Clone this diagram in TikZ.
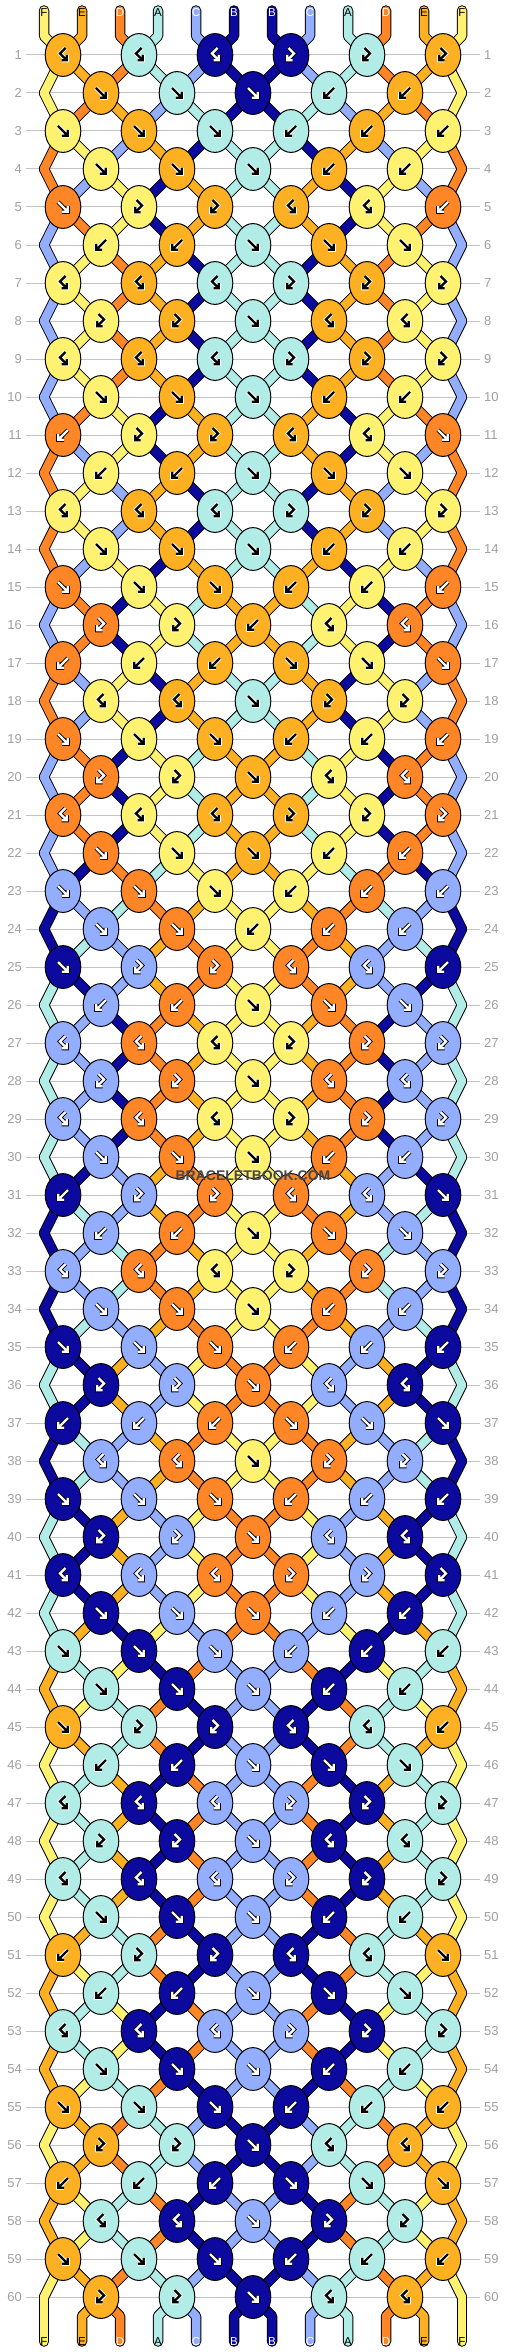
\documentclass[tikz,border=0pt]{standalone}
\usepackage{fontspec}
\setmainfont{Liberation Sans}
\usetikzlibrary{shapes.geometric}

\definecolor{cF}{HTML}{FFF270}
\definecolor{cE}{HTML}{FDB022}
\definecolor{cD}{HTML}{FF8626}
\definecolor{cA}{HTML}{B2ECE6}
\definecolor{cC}{HTML}{94AEFF}
\definecolor{cB}{HTML}{0C0A9E}
\colorlet{gF}{black}\colorlet{oF}{white}
\colorlet{gE}{black}\colorlet{oE}{white}
\colorlet{gA}{black}\colorlet{oA}{white}
\colorlet{gD}{white}\colorlet{oD}{black}
\colorlet{gC}{white}\colorlet{oC}{black}
\colorlet{gB}{white}\colorlet{oB}{black}
\definecolor{rowgray}{HTML}{A0A0A0}
\definecolor{linegray}{HTML}{C4C4C4}

\pgfdeclarelayer{grid}
\pgfdeclarelayer{tb}
\pgfdeclarelayer{tc}
\pgfsetlayers{grid,tb,tc,main}

\tikzset{
  knot/.style={ellipse, draw=black, line width=1pt, minimum width=35.6pt, minimum height=42.8pt, inner sep=0pt},
  rowlabel/.style={text=rowgray, font=\fontsize{13}{13}\selectfont, inner sep=0pt},
  endlabel/.style={font=\fontsize{11.5}{11.5}\selectfont, inner sep=0pt},
  glyph/.style={line cap=butt, line join=miter},
  gridline/.style={linegray, line width=1pt},
  tblack/.style={black, line width=10.5pt, line cap=round, line join=round},
  tcolor/.style={line width=8.5pt, line cap=round, line join=round}
}

\newcount\kj
\newcount\kp
\def\getst#1{\csname st\number\numexpr#1\relax\endcsname}
\def\posname#1#2{k#1-\ifodd#1 \csname po#2\endcsname\else\csname pe#2\endcsname\fi}

\def\glyphf#1{\draw[glyph,#1] (-5,-5) -- (4.8,4.8) (4.8,-1.2) -- (4.8,4.8) -- (-1.2,4.8);}
\def\glyphb#1{\draw[glyph,#1] (5,-5) -- (-4.8,4.8) (-4.8,-1.2) -- (-4.8,4.8) -- (1.2,4.8);}
\def\glyphr#1{\draw[glyph,#1] (2.5,-7) -- (-3,-1.5) -- (3.8,5.3) (3.8,0) -- (3.8,5.3) -- (-1.5,5.3);}
\def\glyphl#1{\draw[glyph,#1] (-2.5,-7) -- (3,-1.5) -- (-3.8,5.3) (-3.8,0) -- (-3.8,5.3) -- (1.5,5.3);}

\gdef\tbpaths{}
\gdef\tcpaths{}
\gdef\gridpaths{}
\newcommand\thread[2]{%
  \xdef\tbpaths{\unexpanded\expandafter{\tbpaths}\unexpanded{\draw[tblack] #2;}}%
  \xdef\tcpaths{\unexpanded\expandafter{\tcpaths}\unexpanded{\draw[tcolor, color=c#1] #2;}}}

\def\drawknot#1{%
  \edef\knL{\getst{\kp}}\edef\knR{\getst{\kp+1}}%
  \if#1f\edef\knC{\knL}\fi
  \if#1l\edef\knC{\knL}\fi
  \if#1b\edef\knC{\knR}\fi
  \if#1r\edef\knC{\knR}\fi
  \edef\knX{\number\numexpr\kxo+76*\kj\relax}%
  \node[knot, fill=c\knC] (k\r-\the\kj) at (\knX,\knY) {};
  \begin{scope}[shift={(\knX,\knY)}]
    \csname glyph#1\endcsname{draw=o\knC, line width=4.2pt}
    \csname glyph#1\endcsname{draw=g\knC, line width=2.2pt}
  \end{scope}
  \advance\kj by 1 \advance\kp by 2 }

\def\swapst{\expandafter\xdef\csname st\the\kp\endcsname{\knR}%
  \expandafter\xdef\csname st\number\numexpr\kp+1\relax\endcsname{\knL}}
\def\swapknot#1{%
  \edef\knL{\getst{\kp}}\edef\knR{\getst{\kp+1}}%
  \if#1f\swapst\fi
  \if#1b\swapst\fi
  \advance\kp by 2 }

\def\knotpass#1{\ifx#1\relax\let\next\relax\else\def\next{\drawknot#1\knotpass}\fi\next}
\def\swappass#1{\ifx#1\relax\let\next\relax\else\def\next{\swapknot#1\swappass}\fi\next}

\def\threadrow{\edef\rp{\number\numexpr\r-1\relax}%
  \foreach \p in {0,...,11}{%
    \edef\tmp{\noexpand\thread{\getst{\p}}{(\posname{\rp}{\p}.center) -- (\posname{\r}{\p}.center)}}\tmp}}

\begin{document}
\begin{tikzpicture}[x=1pt, y=-1pt]
  \useasboundingbox (0,0) rectangle (506,2352);

  \foreach \p/\a/\b in {0/0/L,1/0/0,2/1/0,3/1/1,4/2/1,5/2/2,6/3/2,7/3/3,8/4/3,9/4/4,10/5/4,11/5/R}
    {\expandafter\xdef\csname po\p\endcsname{\a}\expandafter\xdef\csname pe\p\endcsname{\b}}
  \foreach \p/\s in {0/F,1/E,2/D,3/A,4/C,5/B,6/B,7/C,8/A,9/D,10/E,11/F}
    {\expandafter\xdef\csname st\p\endcsname{\s}}

  \foreach \kt [count=\r] in {rrrlll,fffbb,fffbbb,fffbb,fllrrb,bbfff,rrrlll,llfrr,rrrlll,fffbb,
      bllrrf,bbfff,rrrlll,fffbb,fffbbb,llbrr,bbbfff,rrfll,fffbbb,llfrr,
      rrrlll,fffbb,fffbbb,ffbbb,fllrrb,bbfff,rrrlll,llfrr,rrrlll,fffbb,
      bllrrf,bbfff,rrrlll,fffbb,fffbbb,llfrr,bbbfff,rrfll,fffbbb,llfrr,
      rrrlll,fffbb,fffbbb,fffbb,fllrrb,bbfff,rrrlll,llfrr,rrrlll,fffbb,
      bllrrf,bbfff,rrrlll,fffbb,fffbbb,llfrr,bbbfff,rrfll,fffbbb,llfrr}{
    \edef\knY{\number\numexpr17+38*\r\relax}
    \node[rowlabel, anchor=east] (nl\r) at (22,\knY) {\r};
    \node[rowlabel, anchor=west] (nr\r) at (484,\knY) {\r};
    \xdef\gridpaths{\unexpanded\expandafter{\gridpaths}\noexpand\draw[gridline] ([xshift=4pt]nl\r.east) -- ([xshift=-4pt]nr\r.west);}
    \coordinate (k\r-L) at (44,\knY);
    \coordinate (k\r-R) at (462,\knY);
    \ifodd\r \def\kxo{63}\kp=0 \else \def\kxo{101}\kp=1 \fi
    \kj=0
    \expandafter\knotpass\kt\relax
    \ifnum\r>1 \let\next\threadrow\else\let\next\relax\fi\next
    \ifodd\r \kp=0 \else \kp=1 \fi
    \expandafter\swappass\kt\relax
  }

  \foreach \p/\s in {0/F,1/E,2/D,3/A,4/C,5/B,6/B,7/C,8/A,9/D,10/E,11/F}{
    \edef\knX{\number\numexpr44+38*\p\relax}
    \coordinate (t\p) at (\knX,10.5);
    \coordinate (tb\p) at (\knX,36);
    \coordinate (bb\p) at (\knX,2316);
    \coordinate (be\p) at (\knX,2341.5);
    \node[endlabel, text=g\s] (lt\p) at (\knX,13) {\s};
    \node[endlabel, text=g\s] (lb\p) at (\knX,2342) {\s};
    \edef\tmp{\noexpand\thread{\s}{(t\p) -- (tb\p) -- (k1-\csname po\p\endcsname.center)}}\tmp
    \edef\tmp{\noexpand\thread{\s}{(\posname{60}{\p}.center) -- (bb\p) -- (be\p)}}\tmp
  }

  \begin{pgfonlayer}{grid}\fill[white] (0,0) rectangle (506,2352); \gridpaths\end{pgfonlayer}
  \begin{pgfonlayer}{tb}\tbpaths\end{pgfonlayer}
  \begin{pgfonlayer}{tc}\tcpaths\end{pgfonlayer}

  \node[font=\bfseries\fontsize{14}{14}\selectfont, text=black!72] (wm) at (253,1176) {BRACELETBOOK.COM};
\end{tikzpicture}
\end{document}
